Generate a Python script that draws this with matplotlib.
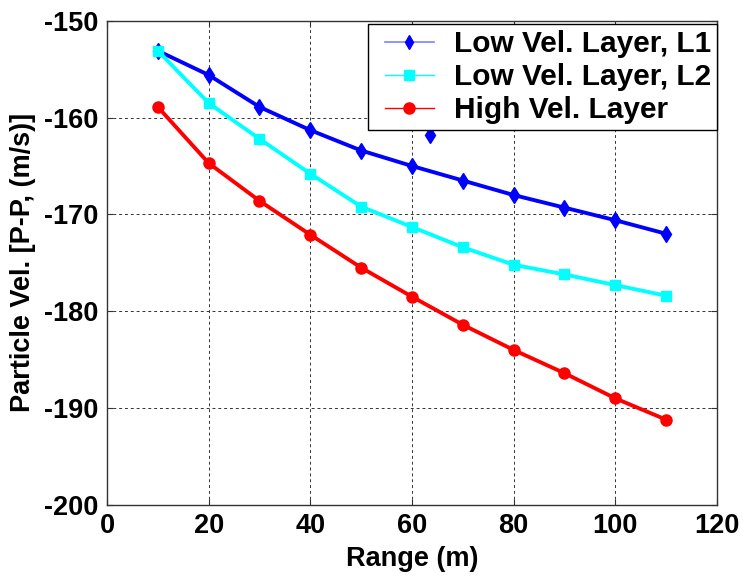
import matplotlib
matplotlib.use("Agg")
import matplotlib.pyplot as plt
from matplotlib.legend_handler import HandlerLine2D
from matplotlib.lines import Line2D

# range (m)
range_m = [10, 20, 30, 40, 50, 60, 70, 80, 90, 100, 110]

# peak-to-peak particle velocity per layer
low_vel_l1 = [-153.1, -155.6, -158.9, -161.3, -163.4, -165.0, -166.5, -168.0, -169.3, -170.6, -172.0]
low_vel_l2 = [-153.1, -158.5, -162.2, -165.8, -169.2, -171.3, -173.4, -175.2, -176.2, -177.3, -178.4]
high_vel = [-158.9, -164.7, -168.6, -172.1, -175.5, -178.5, -181.4, -184.0, -186.4, -189.0, -191.2]

# stray L1 marker half hidden under the legend in the original
stray_x = [63.5]
stray_y = [-161.8]

labels = ["Low Vel. Layer, L1", "Low Vel. Layer, L2", "High Vel. Layer"]
xticks = [0, 20, 40, 60, 80, 100, 120]
yticks = [-200, -190, -180, -170, -160, -150]

plt.rcParams["font.family"] = ["Liberation Sans", "DejaVu Sans"]
plt.rcParams["font.weight"] = "bold"
plt.rcParams["axes.unicode_minus"] = False

fig = plt.figure(figsize=(7.43, 5.77), dpi=100)
ax = fig.add_axes([0.144, 0.125, 0.821, 0.839])

ax.plot(stray_x, stray_y, color="#0000ff", ls="none", marker="d", ms=8, zorder=3)
ax.plot(range_m, low_vel_l1, color="#0000ff", lw=2.8, marker="d", ms=8, label=labels[0], zorder=3)
ax.plot(range_m, low_vel_l2, color="#00ffff", lw=2.8, marker="s", ms=7, label=labels[1], zorder=3)
ax.plot(range_m, high_vel, color="#ff0000", lw=2.8, marker="o", ms=8, label=labels[2], zorder=3)

ax.set_xlim(0, 120)
ax.set_ylim(-200, -150)
ax.set_xticks(xticks)
ax.set_yticks(yticks)
ax.tick_params(direction="in", length=4, width=0.8, labelsize=19.5, pad=6,
               top=True, right=True, colors="#333333", labelcolor="black")
for lab in ax.get_xticklabels() + ax.get_yticklabels():
    lab.set_fontweight("bold")
for sp in ax.spines.values():
    sp.set_color("#333333")
    sp.set_linewidth(1.0)

ax.grid(True, color="#333333", ls=(0, (3, 3)), lw=0.7)
ax.set_axisbelow(False)

ax.set_xlabel("Range (m)", fontsize=19.5, fontweight="bold", labelpad=5)
ax.set_ylabel("Particle Vel. [P-P, (m/s)]", fontsize=19.5, fontweight="bold", labelpad=6)

# thin legend samples, as in the original
legend_fs = 21.5
handles = [
    Line2D([], [], color="#8080ff", lw=1.2, marker="d", ms=7, mec="#0000ff", mfc="#0000ff"),
    Line2D([], [], color="#00ffff", lw=1.0, marker="s", ms=7),
    Line2D([], [], color="#ff0000", lw=1.0, marker="o", ms=8),
]
# legend corner: right edge x=717, top y=24 in the 743x577 picture
leg = ax.legend(handles, labels, loc="upper right",
                bbox_to_anchor=(717 / 743, 1 - 24 / 577),
                bbox_transform=fig.transFigure, fontsize=legend_fs, frameon=True,
                fancybox=False, edgecolor="black", framealpha=1, borderpad=0.2,
                labelspacing=0.17, handlelength=2.0, handletextpad=0.67, borderaxespad=0.0,
                handler_map={Line2D: HandlerLine2D(xpad=0.37)})
leg.get_frame().set_linewidth(1.0)
leg.set_zorder(5)

fig.savefig("out.png", dpi=100)
